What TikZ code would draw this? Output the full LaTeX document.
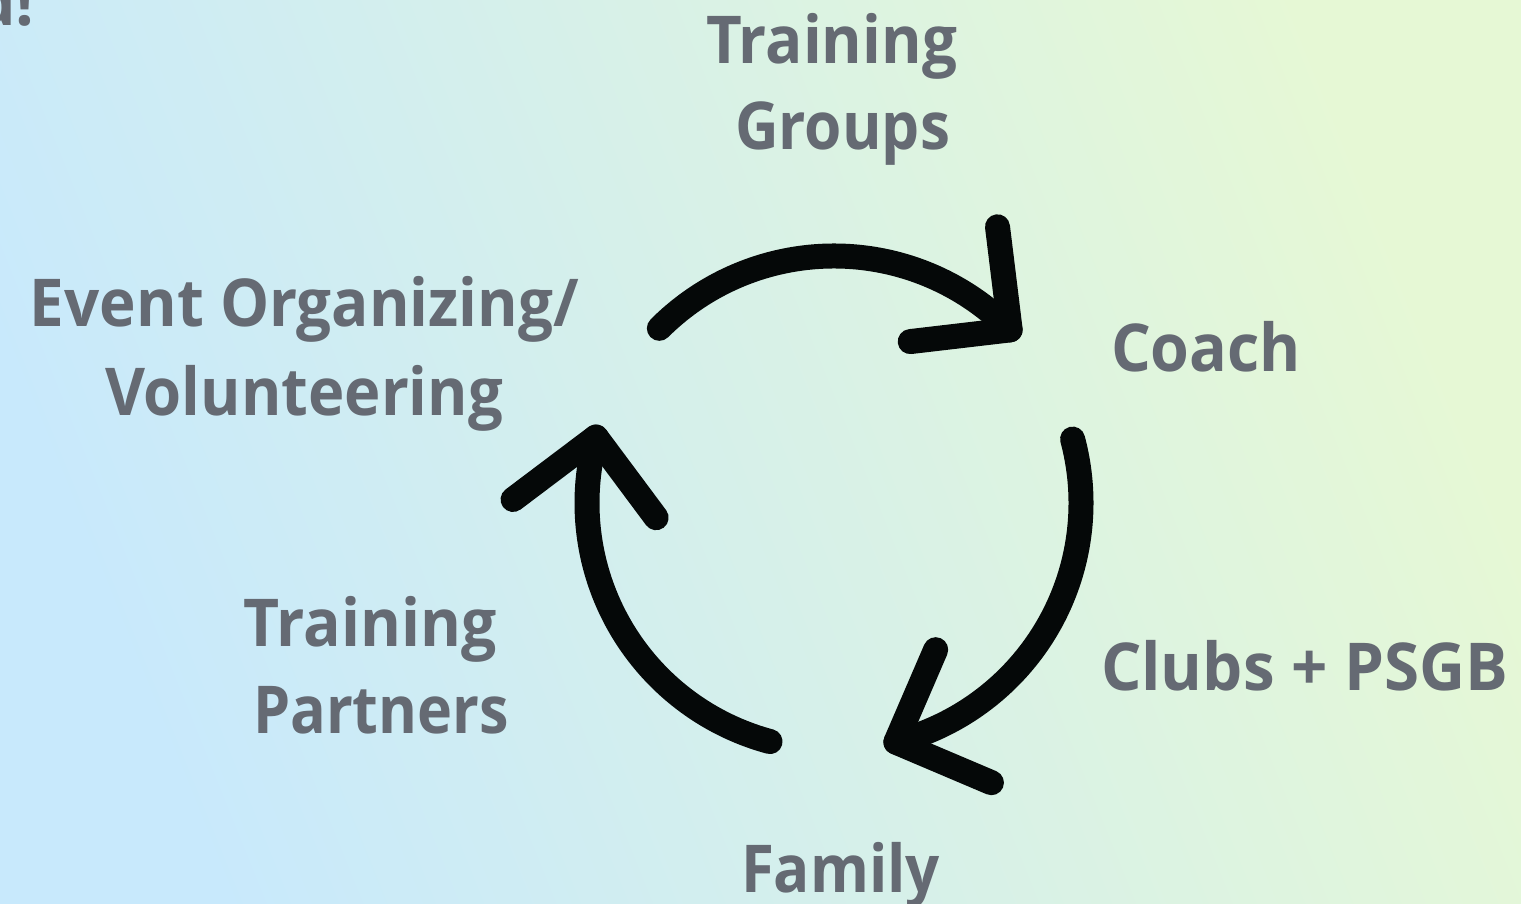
\documentclass[tikz,border=0pt]{standalone}
\usepackage{fontspec}
\setmainfont{Open Sans}
\usepackage{graphicx}
\definecolor{bgA}{HTML}{C8E9FC}
\definecolor{bgB}{HTML}{E6F8D5}
\definecolor{labelgray}{HTML}{656A73}
\definecolor{arrowblack}{HTML}{050808}
\newlength\fitlen
\newcommand\fitto[2]{\settowidth{\fitlen}{#2}\pgfmathsetmacro\fitfac{#1/\fitlen}\scalebox{\fitfac}[1]{#2}}
\begin{document}
\begin{tikzpicture}[x=1pt,y=1pt,
  lbl/.style={text=labelgray, font=\fontsize{66}{80}\selectfont\bfseries, inner sep=0pt, anchor=base},
  cyc/.style={draw=arrowblack, line width=25pt, line cap=round, line join=round}]
\useasboundingbox (0,0) rectangle (1521,904);
\clip (0,0) rectangle (1521,904);
\shade[left color=bgA, right color=bgB, shading angle=112] (0,0) rectangle (1521,904);
% cycle arrows
\foreach \r/\n in {0/a,-120/b,-240/c}{
  \begin{scope}[shift={(834,401)}, rotate=\r]
    \coordinate (s\n) at (135:247);
    \coordinate (t\n) at (44.5:247);
    \coordinate (h\n) at (163.5,276.2);
    \coordinate (k\n) at (76.2,161.4);
    \draw[cyc] (s\n) arc[start angle=135, end angle=44.5, radius=247];
    \draw[cyc] (h\n) -- (t\n) -- (k\n);
  \end{scope}
}
% labels
\node[lbl, anchor=base east] (dx) at (35,878) {d!};
\node[lbl] (tg1) at (831.5,840) {\fitto{251}{Training}};
\node[lbl] (tg2) at (842.5,754) {\fitto{215}{Groups}};
\node[lbl] (ev1) at (304.5,577) {\fitto{549}{Event Organizing/}};
\node[lbl] (ev2) at (304,488) {\fitto{398}{Volunteering}};
\node[lbl] (coach) at (1206,532) {\fitto{190}{Coach}};
\node[lbl] (clubs) at (1304.5,213) {\fitto{407}{Clubs + PSGB}};
\node[lbl] (tp1) at (370,257) {\fitto{253}{Training}};
\node[lbl] (tp2) at (381,170) {\fitto{256}{Partners}};
\node[lbl] (fam) at (840.5,11) {\fitto{199}{Family}};
\end{tikzpicture}
\end{document}
